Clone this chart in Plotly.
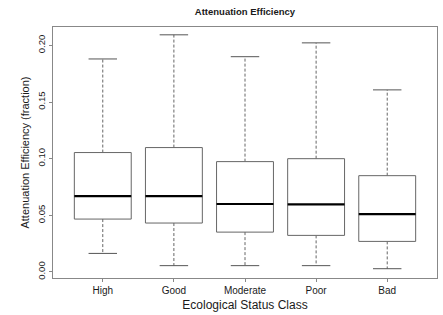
import plotly.graph_objects as go

categories = ["High", "Good", "Moderate", "Poor", "Bad"]
lower_whisker = [0.0164, 0.0056, 0.0056, 0.0056, 0.0029]
q1 = [0.0467, 0.0432, 0.0352, 0.0323, 0.0270]
median = [0.0670, 0.0670, 0.0600, 0.0597, 0.0511]
q3 = [0.1054, 0.1098, 0.0974, 0.1000, 0.0850]
upper_whisker = [0.1880, 0.2093, 0.1900, 0.2022, 0.1607]

HALF = 0.4   # half box width in category units
CAP = 0.2    # half cap width

fig = go.Figure()
box_col = "#666666"
wh_col = "#666666"

for i, c in enumerate(categories):
    fig.add_trace(go.Scatter(x=[i, i, None, i, i], y=[q3[i], upper_whisker[i], None, q1[i], lower_whisker[i]],
                             mode="lines", line=dict(color=wh_col, width=1, dash="3px,2px"),
                             hoverinfo="skip", showlegend=False))
    fig.add_trace(go.Scatter(x=[i - CAP, i + CAP, None, i - CAP, i + CAP],
                             y=[upper_whisker[i], upper_whisker[i], None, lower_whisker[i], lower_whisker[i]],
                             mode="lines", line=dict(color="#555555", width=1),
                             hoverinfo="skip", showlegend=False))
    fig.add_trace(go.Scatter(x=[i - HALF, i + HALF, i + HALF, i - HALF, i - HALF],
                             y=[q1[i], q1[i], q3[i], q3[i], q1[i]],
                             mode="lines", line=dict(color=box_col, width=1),
                             fill="toself", fillcolor="white",
                             hoverinfo="skip", showlegend=False))
    fig.add_trace(go.Scatter(x=[i - HALF, i + HALF], y=[median[i], median[i]],
                             mode="lines", line=dict(color="black", width=2.2),
                             hoverinfo="skip", showlegend=False))

fig.update_layout(
    width=443, height=315,
    margin=dict(l=53, r=6, t=27, b=37, autoexpand=False),
    paper_bgcolor="white", plot_bgcolor="white",
    font=dict(family="Liberation Sans, Arial, sans-serif", color="#1a1a1a"),
    title=dict(text="<b>Attenuation Efficiency</b>", x=0.553, xanchor="center", y=0.962, yanchor="middle",
               font=dict(size=9.5, color="#1a1a1a")),
    showlegend=False,
)
fig.update_xaxes(range=[-0.7, 4.7], tickmode="array", tickvals=list(range(len(categories))),
                 ticktext=categories, showgrid=False, zeroline=False, automargin=False,
                 showline=True, mirror=True, linecolor="#888888", linewidth=1,
                 ticks="outside", ticklen=3, tickcolor="#888888",
                 tickfont=dict(size=10),
                 title=dict(text="Ecological Status Class", font=dict(size=12), standoff=5))
fig.update_yaxes(range=[-0.0053, 0.2162], tickvals=[0, 0.05, 0.10, 0.15, 0.20],
                 ticktext=["0.00", "0.05", "0.10", "0.15", "0.20"], tickangle=-90,
                 showgrid=False, zeroline=False, automargin=False,
                 showline=True, mirror=True, linecolor="#888888", linewidth=1,
                 ticks="outside", ticklen=3, tickcolor="#888888",
                 tickfont=dict(size=9.5),
                 title=dict(text="Attenuation Efficiency (fraction)", font=dict(size=11), standoff=4))

fig.write_html("out.html", config={"displayModeBar": False},
               post_script="document.body.style.margin='0';document.body.style.padding='0';")
